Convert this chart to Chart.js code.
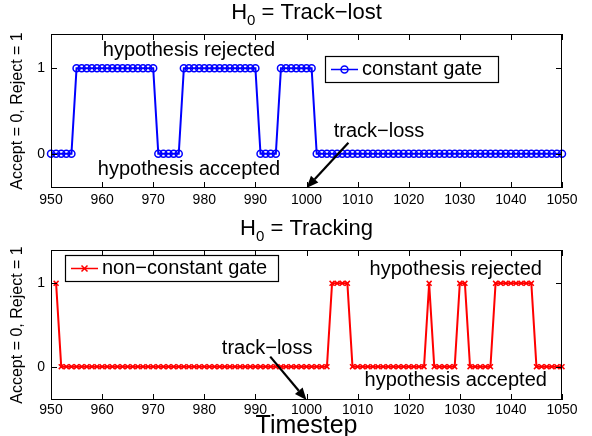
<!DOCTYPE html>
<html>
<head>
<meta charset="utf-8">
<script src="https://cdn.jsdelivr.net/npm/chart.js@4.4.1/dist/chart.umd.min.js"></script>
<style>
  html, body { margin: 0; padding: 0; background: #fff; }
  #wrap { position: relative; width: 592px; height: 436px; }
  canvas { position: absolute; left: 0; }
</style>
</head>
<body>
<div id="wrap">
  <canvas id="chartTop" width="592" height="218" style="top:0"></canvas>
  <canvas id="chartBottom" width="592" height="218" style="top:218px"></canvas>
</div>
<script>
"use strict";

// timesteps 950..1050
const timestepsTop = [
  950, 951, 952, 953, 954, 955, 956, 957, 958, 959,
  960, 961, 962, 963, 964, 965, 966, 967, 968, 969,
  970, 971, 972, 973, 974, 975, 976, 977, 978, 979,
  980, 981, 982, 983, 984, 985, 986, 987, 988, 989,
  990, 991, 992, 993, 994, 995, 996, 997, 998, 999,
  1000, 1001, 1002, 1003, 1004, 1005, 1006, 1007, 1008, 1009,
  1010, 1011, 1012, 1013, 1014, 1015, 1016, 1017, 1018, 1019,
  1020, 1021, 1022, 1023, 1024, 1025, 1026, 1027, 1028, 1029,
  1030, 1031, 1032, 1033, 1034, 1035, 1036, 1037, 1038, 1039,
  1040, 1041, 1042, 1043, 1044, 1045, 1046, 1047, 1048, 1049,
  1050
];
const constantGate = [
  0, 0, 0, 0, 0, 1, 1, 1, 1, 1,
  1, 1, 1, 1, 1, 1, 1, 1, 1, 1,
  1, 0, 0, 0, 0, 0, 1, 1, 1, 1,
  1, 1, 1, 1, 1, 1, 1, 1, 1, 1,
  1, 0, 0, 0, 0, 1, 1, 1, 1, 1,
  1, 1, 0, 0, 0, 0, 0, 0, 0, 0,
  0, 0, 0, 0, 0, 0, 0, 0, 0, 0,
  0, 0, 0, 0, 0, 0, 0, 0, 0, 0,
  0, 0, 0, 0, 0, 0, 0, 0, 0, 0,
  0, 0, 0, 0, 0, 0, 0, 0, 0, 0,
  0
];

// timesteps 951..1050
const timestepsBottom = [
  951, 952, 953, 954, 955, 956, 957, 958, 959,
  960, 961, 962, 963, 964, 965, 966, 967, 968, 969,
  970, 971, 972, 973, 974, 975, 976, 977, 978, 979,
  980, 981, 982, 983, 984, 985, 986, 987, 988, 989,
  990, 991, 992, 993, 994, 995, 996, 997, 998, 999,
  1000, 1001, 1002, 1003, 1004, 1005, 1006, 1007, 1008, 1009,
  1010, 1011, 1012, 1013, 1014, 1015, 1016, 1017, 1018, 1019,
  1020, 1021, 1022, 1023, 1024, 1025, 1026, 1027, 1028, 1029,
  1030, 1031, 1032, 1033, 1034, 1035, 1036, 1037, 1038, 1039,
  1040, 1041, 1042, 1043, 1044, 1045, 1046, 1047, 1048, 1049,
  1050
];
const nonConstantGate = [
  1, 0, 0, 0, 0, 0, 0, 0, 0,
  0, 0, 0, 0, 0, 0, 0, 0, 0, 0,
  0, 0, 0, 0, 0, 0, 0, 0, 0, 0,
  0, 0, 0, 0, 0, 0, 0, 0, 0, 0,
  0, 0, 0, 0, 0, 0, 0, 0, 0, 0,
  0, 0, 0, 0, 0, 1, 1, 1, 1, 0,
  0, 0, 0, 0, 0, 0, 0, 0, 0, 0,
  0, 0, 0, 0, 1, 0, 0, 0, 0, 0,
  1, 1, 0, 0, 0, 0, 0, 1, 1, 1,
  1, 1, 1, 1, 1, 0, 0, 0, 0, 0,
  0
];

const xTicks = [950, 960, 970, 980, 990, 1000, 1010, 1020, 1030, 1040, 1050];
const yTicks = [0, 1];

const FONT = '"Liberation Sans", Arial, Helvetica, sans-serif';

function toPoints(xs, ys) {
    return xs.map((x, i) => ({ x: x, y: ys[i] }));
}

function drawArrow(ctx, x0, y0, x1, y1) {
    const ang = Math.atan2(y1 - y0, x1 - x0);
    const len = 12, half = 5;
    const bx = x1 - len * Math.cos(ang), by = y1 - len * Math.sin(ang);
    ctx.beginPath();
    ctx.moveTo(x0, y0);
    ctx.lineTo(bx, by);
    ctx.lineWidth = 2.2;
    ctx.strokeStyle = '#000';
    ctx.stroke();
    ctx.beginPath();
    ctx.moveTo(x1, y1);
    ctx.lineTo(bx + half * Math.sin(ang), by - half * Math.cos(ang));
    ctx.lineTo(bx - half * Math.sin(ang), by + half * Math.cos(ang));
    ctx.closePath();
    ctx.fillStyle = '#000';
    ctx.fill();
}

function drawMarker(ctx, style, x, y, color) {
    ctx.strokeStyle = color;
    ctx.lineWidth = 1.5;
    ctx.beginPath();
    if (style === 'circle') {
        ctx.arc(x, y, 3.5, 0, Math.PI * 2);
    } else {
        ctx.moveTo(x - 3, y - 3); ctx.lineTo(x + 3, y + 3);
        ctx.moveTo(x + 3, y - 3); ctx.lineTo(x - 3, y + 3);
    }
    ctx.stroke();
}

// box, inward ticks, titles, legend and text notes, matlab style
const decorPlugin = {
    id: 'decor',
    afterDraw(chart, args, opts) {
        const { ctx, chartArea: a, scales: { x, y } } = chart;
        ctx.save();

        ctx.strokeStyle = '#000';
        ctx.lineWidth = 1;
        ctx.strokeRect(Math.round(a.left) + 0.5, Math.round(a.top) + 0.5,
            Math.round(a.width) - 1, Math.round(a.height) - 1);
        ctx.beginPath();
        xTicks.forEach(v => {
            const px = Math.round(x.getPixelForValue(v)) + 0.5;
            ctx.moveTo(px, a.bottom); ctx.lineTo(px, a.bottom - 6);
            ctx.moveTo(px, a.top); ctx.lineTo(px, a.top + 6);
        });
        yTicks.forEach(v => {
            const py = Math.round(y.getPixelForValue(v)) + 0.5;
            ctx.moveTo(a.left, py); ctx.lineTo(a.left + 6, py);
            ctx.moveTo(a.right, py); ctx.lineTo(a.right - 6, py);
        });
        ctx.stroke();

        // title with subscript
        ctx.fillStyle = '#000';
        ctx.textBaseline = 'middle';
        ctx.font = '22px ' + FONT;
        const hW = ctx.measureText('H').width;
        ctx.font = '15px ' + FONT;
        const subW = ctx.measureText('0').width;
        ctx.font = '22px ' + FONT;
        const restW = ctx.measureText(opts.title).width;
        let tx = (a.left + a.right) / 2 - (hW + subW + restW) / 2;
        ctx.textAlign = 'left';
        ctx.fillText('H', tx, opts.titleY);
        ctx.font = '15px ' + FONT;
        ctx.fillText('0', tx + hW, opts.titleY + 8);
        ctx.font = '22px ' + FONT;
        ctx.fillText(opts.title, tx + hW + subW, opts.titleY);

        // y axis title
        ctx.save();
        ctx.translate(18, (a.top + a.bottom) / 2);
        ctx.rotate(-Math.PI / 2);
        ctx.font = '16px ' + FONT;
        ctx.textAlign = 'center';
        ctx.fillText('Accept = 0, Reject = 1', 0, 0);
        ctx.restore();

        if (opts.xTitle) {
            ctx.font = '25px ' + FONT;
            ctx.textAlign = 'center';
            ctx.fillText(opts.xTitle, (a.left + a.right) / 2, opts.xTitleY);
        }

        // notes
        ctx.font = '20px ' + FONT;
        ctx.textAlign = 'center';
        opts.notes.forEach(n => {
            ctx.fillText(n.text, x.getPixelForValue(n.x), y.getPixelForValue(n.y));
        });
        const ar = opts.arrow;
        drawArrow(ctx, x.getPixelForValue(ar.x0), y.getPixelForValue(ar.y0),
            x.getPixelForValue(ar.x1), y.getPixelForValue(ar.y1));

        // legend
        const lg = opts.legend;
        const bx = a.left + lg.dx, by = a.top + lg.dy;
        ctx.fillStyle = '#fff';
        ctx.fillRect(bx, by, lg.w, 26);
        ctx.strokeStyle = '#000';
        ctx.lineWidth = 1.2;
        ctx.strokeRect(bx + 0.5, by + 0.5, lg.w, 26);
        const my = by + 13.5;
        ctx.beginPath();
        ctx.moveTo(bx + 6, my); ctx.lineTo(bx + 33, my);
        ctx.strokeStyle = lg.color;
        ctx.lineWidth = 1.5;
        ctx.stroke();
        drawMarker(ctx, lg.marker, bx + 19.5, my, lg.color);
        ctx.fillStyle = '#000';
        ctx.font = '20px ' + FONT;
        ctx.textAlign = 'left';
        ctx.fillText(lg.text, bx + 37, my);

        ctx.restore();
    }
};

function makeChart(id, cfg) {
    new Chart(document.getElementById(id), {
        type: 'line',
        data: {
            datasets: [{
                data: toPoints(cfg.xs, cfg.ys),
                borderColor: cfg.color,
                borderWidth: 2,
                pointStyle: cfg.pointStyle,
                pointRadius: 3.5,
                pointBorderWidth: 1.5,
                pointBorderColor: cfg.color,
                pointBackgroundColor: 'rgba(0,0,0,0)',
                tension: 0,
                clip: 6
            }]
        },
        options: {
            responsive: false,
            animation: false,
            devicePixelRatio: 1,
            layout: { padding: { top: cfg.padTop, right: 30, left: 0, bottom: 0 } },
            plugins: {
                legend: { display: false },
                tooltip: { enabled: false },
                decor: cfg.decor
            },
            scales: {
                x: {
                    type: 'linear',
                    min: 950,
                    max: 1050,
                    afterBuildTicks: s => { s.ticks = xTicks.map(v => ({ value: v })); },
                    afterFit: s => { s.height = cfg.xAxisH; },
                    grid: { display: false, drawTicks: false },
                    border: { display: false },
                    ticks: {
                        color: '#000',
                        padding: cfg.tickPad,
                        maxRotation: 0,
                        autoSkip: false,
                        callback: v => String(v),
                        font: { family: FONT, size: 14 }
                    }
                },
                y: {
                    min: -0.4,
                    max: 1.4,
                    afterBuildTicks: s => { s.ticks = yTicks.map(v => ({ value: v })); },
                    afterFit: s => { s.width = 51; },
                    grid: { display: false, drawTicks: false },
                    border: { display: false },
                    ticks: {
                        color: '#000',
                        padding: 6,
                        callback: v => String(v),
                        font: { family: FONT, size: 14 }
                    }
                }
            }
        },
        plugins: [decorPlugin]
    });
}

makeChart('chartTop', {
    xs: timestepsTop, ys: constantGate, color: '#0000ff', pointStyle: 'circle',
    padTop: 34, xAxisH: 30, tickPad: 4,
    decor: {
        title: ' = Track\u2212lost', titleY: 13,
        notes: [
            { text: 'hypothesis rejected', x: 977, y: 1.21 },
            { text: 'hypothesis accepted', x: 977, y: -0.18 },
            { text: 'track\u2212loss', x: 1014.2, y: 0.26 }
        ],
        arrow: { x0: 1008.2, y0: 0.13, x1: 1000, y1: -0.4 },
        legend: { dx: 274, dy: 22, w: 173, text: 'constant gate', color: '#0000ff', marker: 'circle' }
    }
});

makeChart('chartBottom', {
    xs: timestepsBottom, ys: nonConstantGate, color: '#ff0000', pointStyle: 'crossRot',
    padTop: 32, xAxisH: 36, tickPad: 2,
    decor: {
        title: ' = Tracking', titleY: 11,
        xTitle: 'Timestep', xTitleY: 208,
        notes: [
            { text: 'hypothesis rejected', x: 1029.2, y: 1.17 },
            { text: 'hypothesis accepted', x: 1029.2, y: -0.17 },
            { text: 'track\u2212loss', x: 992.3, y: 0.22 }
        ],
        arrow: { x0: 992.9, y0: 0.12, x1: 1000, y1: -0.4 },
        legend: { dx: 14, dy: 5, w: 213, text: 'non\u2212constant gate', color: '#ff0000', marker: 'cross' }
    }
});
</script>
</body>
</html>
